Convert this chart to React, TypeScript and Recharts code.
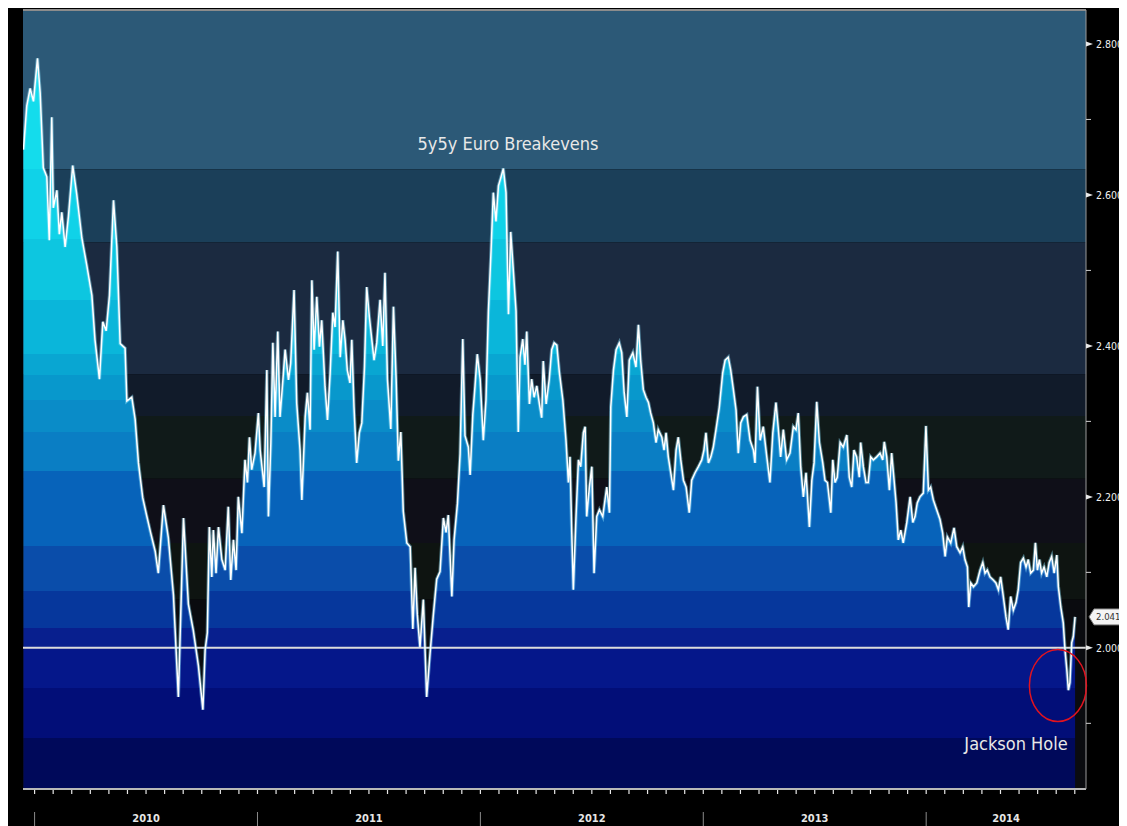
import { ComposedChart, Area, Line, XAxis, YAxis, ReferenceArea, ReferenceLine, ReferenceDot } from "recharts";

// observation dates as decimal years
const obsDates = [
  2009.950, 2009.965, 2009.980, 2009.995, 2010.013, 2010.025, 2010.039, 2010.055, 2010.066, 2010.077,
  2010.084, 2010.100, 2010.111, 2010.122, 2010.137, 2010.152, 2010.171, 2010.189, 2010.212, 2010.234,
  2010.257, 2010.271, 2010.291, 2010.306, 2010.321, 2010.336, 2010.354, 2010.369, 2010.384, 2010.406,
  2010.414, 2010.436, 2010.451, 2010.466, 2010.485, 2010.503, 2010.521, 2010.541, 2010.555, 2010.578,
  2010.600, 2010.623, 2010.645, 2010.668, 2010.690, 2010.712, 2010.735, 2010.755, 2010.765, 2010.775,
  2010.784, 2010.795, 2010.802, 2010.814, 2010.825, 2010.840, 2010.855, 2010.869, 2010.880, 2010.892,
  2010.904, 2010.914, 2010.930, 2010.944, 2010.955, 2010.964, 2010.974, 2010.989, 2011.004, 2011.012,
  2011.030, 2011.042, 2011.049, 2011.060, 2011.069, 2011.079, 2011.091, 2011.101, 2011.113, 2011.124,
  2011.139, 2011.149, 2011.164, 2011.176, 2011.191, 2011.199, 2011.214, 2011.224, 2011.236, 2011.244,
  2011.254, 2011.266, 2011.278, 2011.288, 2011.303, 2011.314, 2011.326, 2011.338, 2011.348, 2011.360,
  2011.371, 2011.383, 2011.393, 2011.403, 2011.415, 2011.423, 2011.433, 2011.445, 2011.457, 2011.468,
  2011.480, 2011.490, 2011.502, 2011.513, 2011.523, 2011.535, 2011.550, 2011.562, 2011.572, 2011.583,
  2011.598, 2011.610, 2011.622, 2011.632, 2011.643, 2011.654, 2011.670, 2011.685, 2011.697, 2011.707,
  2011.717, 2011.729, 2011.744, 2011.759, 2011.774, 2011.789, 2011.804, 2011.819, 2011.834, 2011.846,
  2011.856, 2011.872, 2011.882, 2011.897, 2011.909, 2011.921, 2011.931, 2011.946, 2011.954, 2011.966,
  2011.976, 2011.986, 2011.999, 2012.013, 2012.025, 2012.036, 2012.048, 2012.058, 2012.070, 2012.081,
  2012.091, 2012.103, 2012.115, 2012.126, 2012.136, 2012.148, 2012.160, 2012.170, 2012.178, 2012.190,
  2012.200, 2012.208, 2012.220, 2012.230, 2012.241, 2012.253, 2012.265, 2012.275, 2012.282, 2012.295,
  2012.309, 2012.320, 2012.331, 2012.343, 2012.354, 2012.370, 2012.384, 2012.395, 2012.402, 2012.410,
  2012.417, 2012.429, 2012.440, 2012.450, 2012.462, 2012.470, 2012.477, 2012.489, 2012.500, 2012.510,
  2012.522, 2012.534, 2012.549, 2012.567, 2012.579, 2012.585, 2012.597, 2012.609, 2012.623, 2012.634,
  2012.645, 2012.657, 2012.668, 2012.684, 2012.698, 2012.709, 2012.719, 2012.731, 2012.743, 2012.754,
  2012.764, 2012.776, 2012.788, 2012.798, 2012.814, 2012.824, 2012.833, 2012.843, 2012.854, 2012.866,
  2012.878, 2012.888, 2012.899, 2012.911, 2012.923, 2012.937, 2012.948, 2012.963, 2012.978, 2012.993,
  2013.003, 2013.012, 2013.023, 2013.034, 2013.045, 2013.057, 2013.072, 2013.087, 2013.098, 2013.112,
  2013.123, 2013.135, 2013.147, 2013.157, 2013.168, 2013.180, 2013.195, 2013.210, 2013.225, 2013.232,
  2013.243, 2013.255, 2013.269, 2013.285, 2013.299, 2013.312, 2013.326, 2013.337, 2013.347, 2013.359,
  2013.374, 2013.389, 2013.404, 2013.416, 2013.426, 2013.437, 2013.449, 2013.461, 2013.476, 2013.487,
  2013.497, 2013.509, 2013.521, 2013.536, 2013.546, 2013.557, 2013.572, 2013.581, 2013.591, 2013.601,
  2013.614, 2013.628, 2013.644, 2013.655, 2013.666, 2013.676, 2013.688, 2013.700, 2013.706, 2013.718,
  2013.730, 2013.740, 2013.751, 2013.763, 2013.778, 2013.793, 2013.805, 2013.812, 2013.823, 2013.835,
  2013.845, 2013.856, 2013.865, 2013.875, 2013.886, 2013.897, 2013.913, 2013.928, 2013.940, 2013.950,
  2013.960, 2013.972, 2013.987, 2013.999, 2014.010, 2014.020, 2014.032, 2014.047, 2014.062, 2014.074,
  2014.085, 2014.095, 2014.110, 2014.125, 2014.137, 2014.152, 2014.164, 2014.174, 2014.185, 2014.191,
  2014.200, 2014.212, 2014.227, 2014.242, 2014.254, 2014.264, 2014.274, 2014.286, 2014.301, 2014.313,
  2014.324, 2014.334, 2014.346, 2014.358, 2014.368, 2014.379, 2014.391, 2014.403, 2014.413, 2014.424,
  2014.436, 2014.448, 2014.458, 2014.469, 2014.481, 2014.490, 2014.499, 2014.508, 2014.518, 2014.529,
  2014.541, 2014.552, 2014.563, 2014.574, 2014.586, 2014.593, 2014.604, 2014.615, 2014.623, 2014.631,
  2014.638, 2014.645, 2014.653, 2014.660, 2014.668,
];

// 5y5y euro breakeven, %
const breakevens = [
  2.660, 2.718, 2.741, 2.724, 2.781, 2.735, 2.636, 2.624, 2.540, 2.703,
  2.583, 2.606, 2.548, 2.577, 2.531, 2.572, 2.639, 2.601, 2.543, 2.507,
  2.467, 2.408, 2.356, 2.432, 2.420, 2.467, 2.593, 2.531, 2.403, 2.397,
  2.327, 2.332, 2.303, 2.245, 2.199, 2.175, 2.152, 2.128, 2.099, 2.189,
  2.146, 2.070, 1.935, 2.172, 2.058, 2.023, 1.976, 1.918, 1.997, 2.020,
  2.160, 2.094, 2.156, 2.099, 2.160, 2.117, 2.103, 2.187, 2.090, 2.143,
  2.103, 2.200, 2.152, 2.249, 2.219, 2.279, 2.236, 2.258, 2.311, 2.262,
  2.213, 2.368, 2.174, 2.272, 2.404, 2.306, 2.419, 2.306, 2.351, 2.395,
  2.355, 2.377, 2.474, 2.324, 2.262, 2.196, 2.306, 2.338, 2.289, 2.487,
  2.395, 2.465, 2.399, 2.434, 2.346, 2.302, 2.364, 2.444, 2.425, 2.525,
  2.385, 2.434, 2.408, 2.368, 2.351, 2.408, 2.319, 2.245, 2.285, 2.298,
  2.372, 2.478, 2.438, 2.408, 2.381, 2.404, 2.461, 2.400, 2.497, 2.356,
  2.290, 2.452, 2.356, 2.248, 2.286, 2.181, 2.139, 2.134, 2.025, 2.106,
  2.044, 2.001, 2.064, 1.935, 1.992, 2.044, 2.091, 2.101, 2.172, 2.153,
  2.176, 2.068, 2.143, 2.191, 2.257, 2.409, 2.281, 2.266, 2.229, 2.309,
  2.347, 2.389, 2.356, 2.275, 2.328, 2.446, 2.527, 2.603, 2.565, 2.612,
  2.622, 2.635, 2.603, 2.442, 2.551, 2.499, 2.446, 2.286, 2.385, 2.409,
  2.375, 2.419, 2.323, 2.356, 2.332, 2.347, 2.323, 2.305, 2.380, 2.323,
  2.356, 2.395, 2.404, 2.401, 2.366, 2.328, 2.275, 2.219, 2.253, 2.152,
  2.077, 2.174, 2.249, 2.240, 2.285, 2.293, 2.174, 2.213, 2.240, 2.099,
  2.174, 2.183, 2.174, 2.213, 2.179, 2.319, 2.368, 2.395, 2.404, 2.391,
  2.338, 2.306, 2.381, 2.391, 2.372, 2.428, 2.381, 2.342, 2.332, 2.325,
  2.311, 2.298, 2.272, 2.289, 2.279, 2.262, 2.285, 2.253, 2.232, 2.209,
  2.262, 2.279, 2.249, 2.222, 2.213, 2.179, 2.222, 2.232, 2.240, 2.249,
  2.262, 2.285, 2.245, 2.253, 2.266, 2.289, 2.319, 2.364, 2.381, 2.385,
  2.368, 2.342, 2.315, 2.258, 2.298, 2.306, 2.309, 2.275, 2.262, 2.245,
  2.346, 2.275, 2.293, 2.253, 2.219, 2.285, 2.325, 2.289, 2.253, 2.289,
  2.249, 2.258, 2.293, 2.289, 2.311, 2.240, 2.200, 2.232, 2.160, 2.222,
  2.245, 2.326, 2.272, 2.245, 2.222, 2.219, 2.179, 2.249, 2.219, 2.226,
  2.272, 2.266, 2.282, 2.226, 2.213, 2.262, 2.253, 2.226, 2.272, 2.240,
  2.219, 2.219, 2.253, 2.249, 2.253, 2.258, 2.249, 2.273, 2.253, 2.209,
  2.258, 2.222, 2.192, 2.143, 2.156, 2.139, 2.166, 2.200, 2.166, 2.174,
  2.192, 2.200, 2.205, 2.294, 2.209, 2.213, 2.196, 2.183, 2.170, 2.152,
  2.121, 2.147, 2.139, 2.159, 2.134, 2.126, 2.134, 2.117, 2.107, 2.054,
  2.086, 2.081, 2.086, 2.103, 2.113, 2.099, 2.103, 2.094, 2.090, 2.086,
  2.077, 2.094, 2.068, 2.041, 2.024, 2.068, 2.050, 2.060, 2.077, 2.113,
  2.119, 2.107, 2.117, 2.099, 2.103, 2.139, 2.103, 2.117, 2.099, 2.107,
  2.094, 2.113, 2.121, 2.099, 2.123, 2.081, 2.054, 2.033, 1.997, 1.971,
  1.944, 1.954, 2.007, 2.015, 2.041,
];

const yTicks = [1.9, 2.0, 2.1, 2.2, 2.3, 2.4, 2.5, 2.6, 2.7, 2.8];
const axisYears = [2010, 2011, 2012, 2013, 2014];
const yearLabels = ["2010", "2011", "2012", "2013", "2014"];
const lastValueLabel = "2.041";

const X_MIN = 2009.948;
const X_MAX = 2014.717;
const Y_MIN = 1.813;
const Y_MAX = 2.845;

const W = 1119;
const H = 818;
const M_LEFT = 15;
const M_TOP = 2;
const Y_AXIS_W = 41;
const X_AXIS_H = 37;
const PLOT_W = W - M_LEFT - Y_AXIS_W;
const PLOT_BOTTOM = H - X_AXIS_H;
const PX_PER_YEAR = PLOT_W / (X_MAX - X_MIN);

const CONDENSED = "'DejaVu Sans Condensed', 'Liberation Sans Narrow', 'DejaVu Sans', sans-serif";

// backdrop bands [low, high, colour]
const bgBands: [number, number, string][] = [
  [2.634, Y_MAX, "#2C5977"],
  [2.537, 2.634, "#1B3F59"],
  [2.362, 2.537, "#1B2A40"],
  [2.307, 2.362, "#111B2A"],
  [2.224, 2.307, "#101A19"],
  [2.139, 2.224, "#0F0F18"],
  [2.064, 2.139, "#0E1411"],
  [Y_MIN, 2.064, "#0A0B0F"],
];

// area fill bands, top edge of each band and its colour
const fillBands: [number, string][] = [
  [Y_MAX, "#14DCEC"],
  [2.634, "#10D2E8"],
  [2.542, "#0DC6E0"],
  [2.461, "#0AB6DA"],
  [2.389, "#09A6D2"],
  [2.362, "#0898CC"],
  [2.328, "#0A8CC8"],
  [2.286, "#0A7EC4"],
  [2.234, "#0763BA"],
  [2.135, "#0A4DAA"],
  [2.075, "#06379C"],
  [2.026, "#081F8E"],
  [2.0, "#05178A"],
  [1.947, "#020E78"],
  [1.881, "#00095A"],
];

const data = obsDates.map((t, i) => ({ t, v: breakevens[i] }));

const monthTicks: number[] = [];
axisYears.forEach((yr) => {
  for (let m = 0; m < 12; m++) {
    const t = yr + m / 12;
    if (t <= X_MAX) monthTicks.push(t);
  }
});

const offsetOf = (v: number) => ((Y_MAX - v) / (Y_MAX - Y_MIN)) * 100 + "%";

const XTick = (props: any) => {
  const { x, y, payload } = props;
  const t = payload.value;
  const yr = Math.floor(t + 1e-6);
  const m = Math.round((t - yr) * 12);
  const idx = axisYears.indexOf(yr);
  const mid = x + (PX_PER_YEAR * (Math.min(yr + 1, X_MAX) - yr)) / 2;
  return (
    <g>
      <line x1={x} x2={x} y1={y + 1} y2={y + 5} stroke="#e8e8e8" strokeWidth={1.2} />
      {m === 0 && <line x1={x} x2={x} y1={y + 23} y2={y + 37} stroke="#8a8a8a" strokeWidth={1} />}
      {m === 0 && (
        <text x={mid} y={y + 33} textAnchor="middle" fill="#e6e6e6" fontSize={11} fontWeight="bold" fontFamily={CONDENSED}>
          {yearLabels[idx]}
        </text>
      )}
    </g>
  );
};

const YTick = (props: any) => {
  const { x, y, payload } = props;
  const v = payload.value;
  const major = Math.round(v * 10) % 2 === 0;
  if (!major) return <line x1={x} x2={x + 5} y1={y} y2={y} stroke="#cfcfcf" strokeWidth={1} />;
  return (
    <g>
      <path d={`M${x} ${y - 2.5} L${x + 7} ${y} L${x} ${y + 2.5} Z`} fill="#e8e8e8" />
      <text x={x + 10} y={y + 4} fill="#f0f0f0" fontSize={10.5} fontFamily={CONDENSED}>
        {v.toFixed(3)}
      </text>
    </g>
  );
};

export default function App() {
  return (
    <div style={{ position: "relative", width: W, height: H, background: "#000", overflow: "hidden" }}>
      <ComposedChart width={W} height={H} data={data} margin={{ top: M_TOP, right: 0, bottom: 0, left: M_LEFT }}>
        <defs>
          <linearGradient id="beFill" gradientUnits="userSpaceOnUse" x1={0} y1={M_TOP} x2={0} y2={PLOT_BOTTOM}>
            {fillBands.flatMap(([top, color], i) => {
              const bottom = i + 1 < fillBands.length ? fillBands[i + 1][0] : Y_MIN;
              return [
                <stop key={`a${i}`} offset={offsetOf(top)} stopColor={color} />,
                <stop key={`b${i}`} offset={offsetOf(bottom)} stopColor={color} />,
              ];
            })}
          </linearGradient>
        </defs>
        <XAxis
          dataKey="t"
          type="number"
          domain={[X_MIN, X_MAX]}
          allowDataOverflow
          ticks={monthTicks}
          interval={0}
          tick={(p: any) => <XTick {...p} />}
          tickLine={false}
          tickSize={0}
          tickMargin={0}
          axisLine={{ stroke: "#b8b8b8", strokeWidth: 2 }}
          height={X_AXIS_H}
        />
        <YAxis
          orientation="right"
          type="number"
          domain={[Y_MIN, Y_MAX]}
          allowDataOverflow
          ticks={yTicks}
          interval={0}
          width={Y_AXIS_W}
          tick={(p: any) => <YTick {...p} />}
          tickLine={false}
          tickSize={0}
          tickMargin={0}
          axisLine={{ stroke: "#9a9a9a", strokeWidth: 1 }}
        />
        {bgBands.map(([lo, hi, color], i) => (
          <ReferenceArea key={i} y1={lo} y2={hi} fill={color} fillOpacity={1} stroke="none" />
        ))}
        <Area
          dataKey="v"
          type="linear"
          stroke="none"
          fill="url(#beFill)"
          fillOpacity={1}
          baseValue={Y_MIN}
          isAnimationActive={false}
          activeDot={false}
        />
        <ReferenceLine y={2} stroke="#dcdcdc" strokeWidth={2} />
        <Line dataKey="v" type="linear" stroke="#8fe4ff" strokeWidth={3.4} strokeOpacity={0.45} dot={false} activeDot={false} isAnimationActive={false} />
        <Line dataKey="v" type="linear" stroke="#ffffff" strokeWidth={1.5} dot={false} activeDot={false} isAnimationActive={false} />
        <ReferenceLine y={Y_MAX} stroke="#8c8c8c" strokeWidth={2} />
        <ReferenceDot
          x={2012.124}
          y={2.66}
          r={0}
          shape={(p: any) => (
            <text x={p.cx} y={p.cy} textAnchor="middle" fill="#e8e8e8" fontSize={18} fontFamily={CONDENSED}>
              5y5y Euro Breakevens
            </text>
          )}
        />
        <ReferenceDot
          x={2014.403}
          y={1.865}
          r={0}
          shape={(p: any) => (
            <text x={p.cx} y={p.cy} textAnchor="middle" fill="#e8e8e8" fontSize={18} fontFamily={CONDENSED}>
              Jackson Hole
            </text>
          )}
        />
        <ReferenceDot
          x={2014.591}
          y={1.95}
          r={0}
          shape={(p: any) => <ellipse cx={p.cx} cy={p.cy} rx={28.5} ry={36} fill="none" stroke="#e2131f" strokeWidth={1.5} />}
        />
        <ReferenceDot
          x={X_MAX}
          y={breakevens[breakevens.length - 1]}
          r={0}
          shape={(p: any) => (
            <g>
              <path
                d={`M${p.cx + 3} ${p.cy} L${p.cx + 8} ${p.cy - 8} L${p.cx + 50} ${p.cy - 8} L${p.cx + 50} ${p.cy + 8} L${p.cx + 8} ${p.cy + 8} Z`}
                fill="#f4f4f4"
                stroke="#777"
                strokeWidth={1}
              />
              <text x={p.cx + 10} y={p.cy + 3.5} fill="#333" fontSize={9.5} fontFamily={CONDENSED}>
                {lastValueLabel}
              </text>
            </g>
          )}
        />
      </ComposedChart>
    </div>
  );
}
